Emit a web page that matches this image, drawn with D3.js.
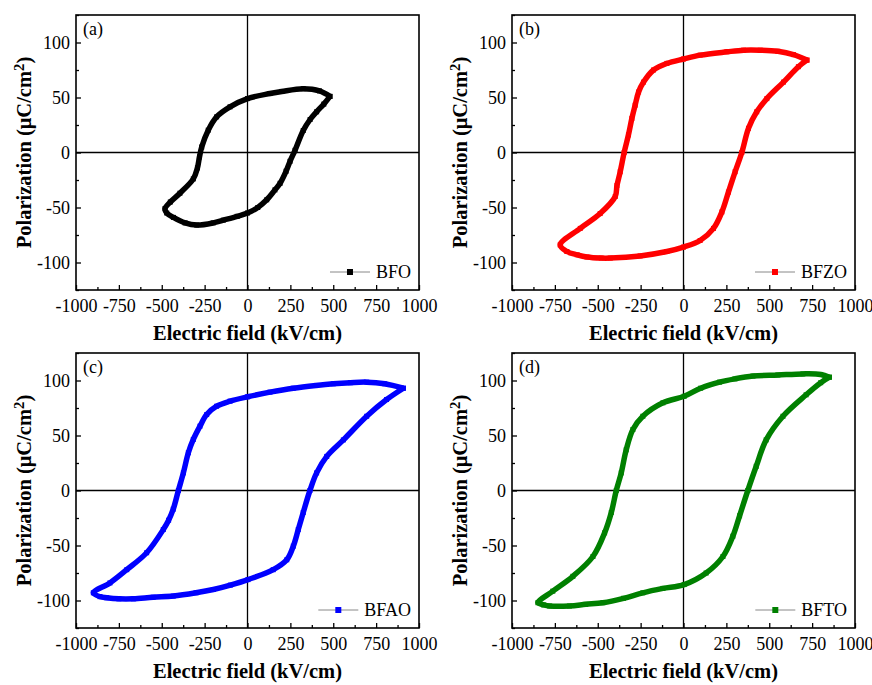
<!DOCTYPE html>
<html>
<head>
<meta charset="utf-8">
<script src="https://cdn.jsdelivr.net/npm/d3@7"></script>
<style>
  body { margin: 0; background: #fff; }
  svg { display: block; }
</style>
</head>
<body>
<svg id="chart" width="872" height="685"></svg>
<script>
const FONT = '"Liberation Serif", "Times New Roman", serif'

// axis ticks
const xTicks = [-1000, -750, -500, -250, 0, 250, 500, 750, 1000]
const xMinor = [-875, -625, -375, -125, 125, 375, 625, 875]
const yTicks = [-100, -50, 0, 50, 100]
const yMinor = [-125, -75, -25, 25, 75, 125]

const panelLabels = ["(a)", "(b)", "(c)", "(d)"]
const sampleNames = ["BFO", "BFZO", "BFAO", "BFTO"]
const sampleColors = ["#000000", "#ff0000", "#0000ff", "#008000"]

// P-E loops, [E kV/cm, P uC/cm2]
const bfo = [[481,51],[420,56],[325,58],[200,55.5],[131,53.6],[0,49],[-102,41.5],[-180,32.4],[-229,20.3],
  [-267,5],[-280,-4],[-292,-14],[-316,-24],[-394,-37],[-450,-45],[-481,-51],[-471,-55],[-432,-59],[-364,-64],
  [-296,-66],[-200,-64],[-141,-61.5],[-60,-58],[0,-55],[60,-50],[112,-43],[160,-34],[190,-28],[225,-17],
  [248,-8],[277,2],[325,20],[365,30],[403,37],[445,44],[481,51]]
const bfzo = [[720,84],[641,89],[550,92],[447,93],[350,93],[253,91.5],[97,88.5],[0,85],[-97,81],[-175,75],
  [-233,64],[-262,55],[-282,43],[-301,31],[-321,16],[-346,0],[-369,-17.5],[-388,-30],[-398,-40],[-486,-55.5],
  [-602,-69],[-719,-84],[-680,-90],[-620,-93],[-563,-95],[-480,-96],[-427,-96],[-253,-94],[-97,-90],[0,-86],
  [97,-80],[175,-69],[224,-54],[262,-36],[301,-17.5],[340,0],[379,22],[427,37],[486,49],[583,64],[670,78],[720,84]]
const bfao = [[909,93],[800,97],[695,98.5],[600,98],[500,97],[400,95.5],[267,93],[131,89.4],[1,85.2],
  [-102,81.2],[-180,76.6],[-238,69],[-277,58.5],[-316,46.4],[-345,34.3],[-374,16],[-403,0],[-433,-17],
  [-460,-27],[-491,-35.5],[-588,-56.6],[-704,-72],[-802,-84],[-899,-93],[-860,-96.5],[-821,-97.5],[-750,-98.5],
  [-666,-98.5],[-550,-97],[-433,-96],[-300,-93],[-199,-90],[-100,-86],[3,-81],[150,-72],[229,-63],[267,-50.6],
  [296,-35.5],[325,-20],[364,0],[403,16],[462,31],[559,46],[695,67.5],[811,82.7],[909,93]]
const bfto = [[851,103],[800,105.5],[696,106],[550,105],[405,104],[300,101.5],[210,98.5],[100,93],[4,85.7],
  [-120,79.7],[-237,67.5],[-295,55.5],[-334,37],[-363,16],[-392,0],[-421,-20],[-460,-38.5],[-528,-60],[-645,-78],
  [-762,-91.5],[-849,-102],[-815,-104],[-781,-105],[-665,-105],[-570,-103.5],[-470,-102],[-350,-98],[-237,-93],
  [-120,-89],[4,-85.5],[132,-75],[230,-60],[288,-41.5],[327,-23],[375,0],[424,22],[482,46],[580,67.5],[715,87],
  [800,98],[851,103]]

const loops = [bfo, bfzo, bfao, bfto]

const W = 343, H = 275
const lefts = [76, 512], tops = [15, 353]
const svg = d3.select("#chart")
svg.append("rect").attr("width", 872).attr("height", 685).attr("fill", "#fff")

const x = d3.scaleLinear().domain([-1000, 1000]).range([0, W])
const y = d3.scaleLinear().domain([-125, 125]).range([H, 0])
const line = d3.line().x(d => x(d[0])).y(d => y(d[1])).curve(d3.curveCatmullRom.alpha(0.5))

loops.forEach((data, i) => {
  const g = svg.append("g")
    .attr("transform", `translate(${lefts[i % 2]},${tops[Math.floor(i / 2)]})`)
    .attr("font-family", FONT)

  // zero lines
  g.append("line").attr("x1", x(0)).attr("x2", x(0)).attr("y1", 0).attr("y2", H)
    .attr("stroke", "#000").attr("stroke-width", 1.3)
  g.append("line").attr("x1", 0).attr("x2", W).attr("y1", y(0)).attr("y2", y(0))
    .attr("stroke", "#000").attr("stroke-width", 1.3)

  // axes, ticks pointing in
  const xa = g.append("g").attr("transform", `translate(0,${H})`)
    .call(d3.axisBottom(x).tickValues(xTicks).tickSize(-5).tickPadding(9).tickFormat(d => String(d)))
  const xm = g.append("g").attr("transform", `translate(0,${H})`)
    .call(d3.axisBottom(x).tickValues(xMinor).tickSize(-3).tickFormat(""))
  const ya = g.append("g")
    .call(d3.axisLeft(y).tickValues(yTicks).tickSize(-5).tickPadding(6).tickFormat(d => String(d)))
  const ym = g.append("g")
    .call(d3.axisLeft(y).tickValues(yMinor).tickSize(-3).tickFormat(""))
  ;[xa, xm, ya, ym].forEach(a => {
    a.attr("font-family", FONT).attr("font-size", 18)
    a.select(".domain").remove()
    a.selectAll("line").attr("stroke", "#000").attr("stroke-width", 1.3)
    a.selectAll("text").attr("fill", "#000")
  })

  // frame
  g.append("rect").attr("width", W).attr("height", H)
    .attr("fill", "none").attr("stroke", "#000").attr("stroke-width", 1.6)

  // loop
  g.append("path").datum(data).attr("d", line)
    .attr("fill", "none").attr("stroke", sampleColors[i])
    .attr("stroke-width", 5.5).attr("stroke-linejoin", "round")
  g.selectAll("rect.pt").data(data).join("rect").attr("class", "pt")
    .attr("x", d => x(d[0]) - 2.5).attr("y", d => y(d[1]) - 2.5)
    .attr("width", 5).attr("height", 5).attr("fill", sampleColors[i])

  // panel label
  g.append("text").attr("x", 7).attr("y", 20).attr("font-size", 18).text(panelLabels[i])

  // legend
  const lt = g.append("text").attr("x", W - 8).attr("y", H - 18).attr("dy", "0.35em")
    .attr("text-anchor", "end").attr("font-size", 18).text(sampleNames[i])
  const tx = W - 8 - lt.node().getComputedTextLength()
  g.append("line").attr("x1", tx - 46).attr("x2", tx - 6).attr("y1", H - 18).attr("y2", H - 18)
    .attr("stroke", "#888").attr("stroke-width", 1)
  g.append("rect").attr("x", tx - 26 - 3).attr("y", H - 18 - 3).attr("width", 6).attr("height", 6)
    .attr("fill", sampleColors[i])

  // axis titles
  g.append("text").attr("x", W / 2).attr("y", H + 50).attr("text-anchor", "middle")
    .attr("font-size", 20.5).attr("font-weight", "bold").text("Electric field (kV/cm)")
  const yt = g.append("text").attr("transform", `translate(-45,${H / 2}) rotate(-90)`)
    .attr("text-anchor", "middle").attr("font-size", 20.5).attr("font-weight", "bold")
  yt.append("tspan").text("Polarization (μC/cm")
  yt.append("tspan").attr("dy", "-0.45em").attr("font-size", "0.72em").text("2")
  yt.append("tspan").attr("dy", "0.32em").text(")")
})
</script>
</body>
</html>
